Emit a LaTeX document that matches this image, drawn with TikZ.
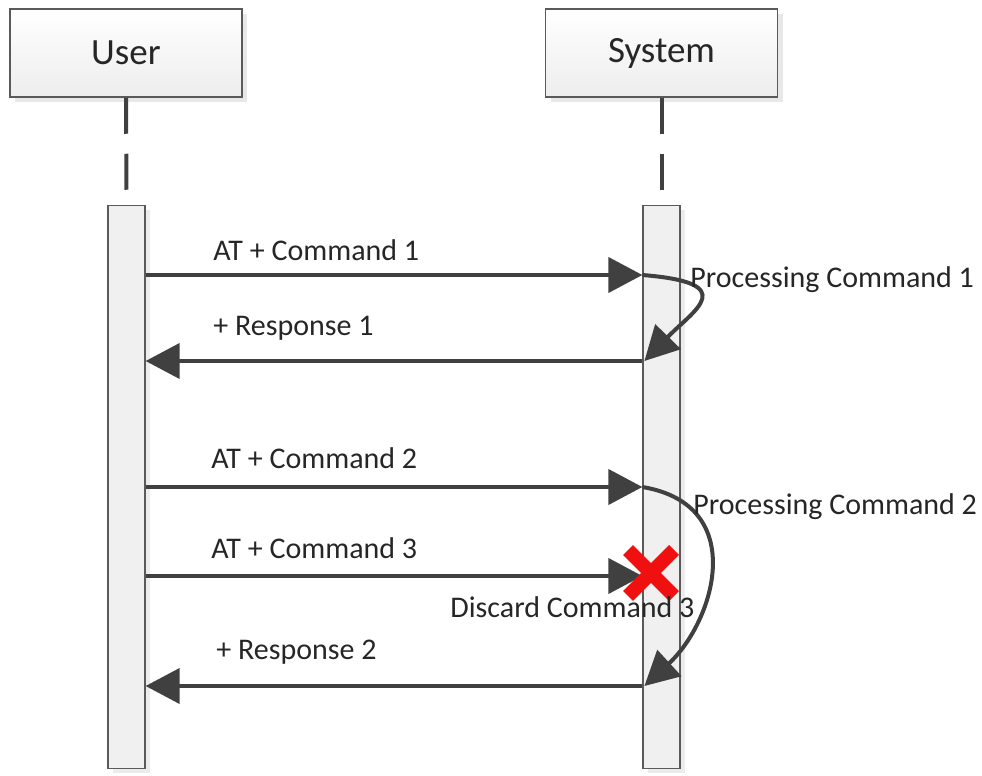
\documentclass[tikz,border=0pt]{standalone}
\usepackage{fontspec}
\setmainfont{Carlito}
\usetikzlibrary{arrows.meta, shadows}

\definecolor{ink}{HTML}{404040}
\definecolor{frame}{HTML}{5A5A5A}
\definecolor{barfill}{HTML}{F0F0F0}
\definecolor{xred}{HTML}{F01010}

\begin{document}
\begin{tikzpicture}[%
        x = 0.5pt, y = -0.5pt,
        actor/.style = {%
          draw = frame,
          line width = 0.75pt,
          shading = axis, top color = white, bottom color = black!7,
          drop shadow = {shadow xshift = 2.5pt, shadow yshift = -2.5pt, fill = black!18},
          minimum width = 116pt,
          minimum height = 44pt,
          font = \fontsize{18.5}{22}\selectfont,
          text = black!85,
        },
        bar/.style = {%
          draw = frame,
          line width = 0.6pt,
          fill = barfill,
          drop shadow = {shadow xshift = 2.5pt, shadow yshift = -2pt, fill = black!15},
          minimum width = 18.5pt,
          minimum height = 281.5pt,
          anchor = north,
        },
        lifeline/.style = {ink, line width = 2pt, dash pattern = on 18pt off 10pt},
        msg/.style = {ink, line width = 2pt, -{Triangle[length=17pt, width=17.5pt]}},
        label/.style = {anchor = west, inner sep = 0pt, text = black!85,
          font = \fontsize{15}{18}\selectfont},
      ]
      \useasboundingbox (0,0) rectangle (982,776);

      % heads and activation bars
      \node[actor] (user)   at (126,53)  {User};
      \node[actor] (system) at (661.5,53) {System};
      \node[bar] (userbar) at (126.5,205) {};
      \node[bar] (sysbar)  at (661.5,205) {};

      \draw[lifeline] (user.south) -- (userbar.north);
      \draw[lifeline] (system.south) -- (sysbar.north);

      % message heights
      \coordinate (m1) at (0,275);
      \coordinate (r1) at (0,361);
      \coordinate (m2) at (0,487);
      \coordinate (m3) at (0,576);
      \coordinate (r2) at (0,686);

      \draw[msg] (userbar.east |- m1) -- (sysbar.west |- m1);
      \draw[msg] (sysbar.west |- r1) -- (userbar.east |- r1);
      \draw[msg] (userbar.east |- m2) -- (sysbar.west |- m2);
      \draw[msg] (userbar.east |- m3) -- (sysbar.west |- m3);
      \draw[msg] (sysbar.west |- r2) -- (userbar.east |- r2);

      % processing loops
      \draw[msg] (sysbar.west |- m1) .. controls (742,283) and (694,310) .. ([xshift=1pt]sysbar.west |- r1);
      \draw[msg] (sysbar.west |- m2) .. controls (750,505) and (714,622) .. ([xshift=1pt]sysbar.west |- r2);

      % discarded command
      \coordinate (drop) at (651,573);
      \draw[xred, line width = 7pt] (drop) ++(-23,-23) -- ++(46,46);
      \draw[xred, line width = 7pt] (drop) ++(23,-23) -- ++(-46,46);

      \node[label] (t1) at (213,250) {AT + Command 1};
      \node[label] (t2) at (213,328) {+ Response 1};
      \node[label] (t3) at (690,280) {Processing Command 1};
      \node[label] (t4) at (211,458) {AT + Command 2};
      \node[label] (t5) at (693,507) {Processing Command 2};
      \node[label] (t6) at (211,548) {AT + Command 3};
      \node[label] (t7) at (450,607) {Discard Command 3};
      \node[label] (t8) at (216,652) {+ Response 2};
    \end{tikzpicture}
\end{document}
